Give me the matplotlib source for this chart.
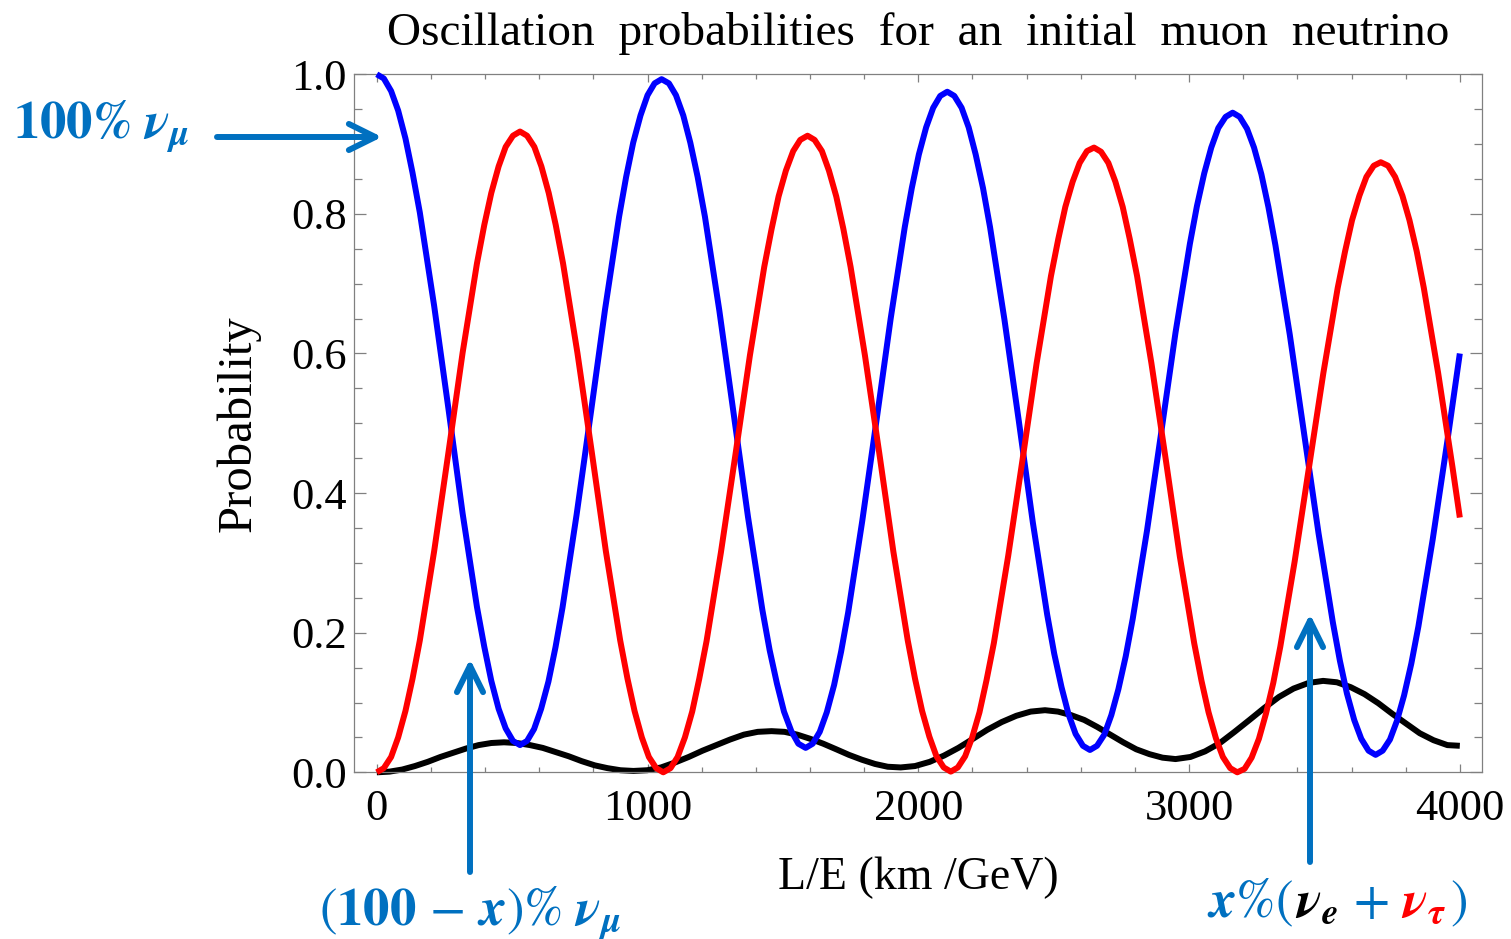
import matplotlib
matplotlib.use("Agg")
import matplotlib.pyplot as plt
from matplotlib.ticker import MultipleLocator, FormatStrFormatter
from matplotlib.transforms import IdentityTransform

plt.rcParams['mathtext.fontset'] = 'stix'
plt.rcParams['font.family'] = 'Liberation Serif'

# nu_mu survival (blue)
L_mumu = [0, 26, 53, 79, 106, 132, 159, 212, 265, 317, 370, 397, 423, 450, 476, 503,
          529, 555, 581, 607, 634, 660, 686, 738, 791, 843, 895, 921, 947, 974, 1000, 1026,
          1052, 1079, 1105, 1132, 1158, 1185, 1212, 1265, 1318, 1371, 1424, 1451, 1478, 1504, 1531, 1557,
          1584, 1610, 1636, 1662, 1689, 1715, 1741, 1793, 1846, 1898, 1950, 1976, 2002, 2029, 2055, 2081,
          2107, 2133, 2160, 2186, 2212, 2239, 2265, 2318, 2371, 2423, 2476, 2502, 2529, 2555, 2581, 2608,
          2634, 2660, 2687, 2713, 2739, 2766, 2792, 2845, 2898, 2950, 3003, 3029, 3056, 3082, 3108, 3135,
          3161, 3187, 3214, 3240, 3267, 3293, 3319, 3372, 3425, 3478, 3531, 3557, 3583, 3610, 3636, 3663,
          3689, 3715, 3742, 3768, 3794, 3821, 3847, 3900, 3953, 4000]
P_mumu = [1.000, 0.994, 0.976, 0.948, 0.908, 0.859, 0.802, 0.668, 0.520, 0.371, 0.237, 0.180, 0.131, 0.091, 0.063, 0.045,
          0.039, 0.045, 0.062, 0.091, 0.130, 0.179, 0.236, 0.369, 0.516, 0.663, 0.796, 0.853, 0.902, 0.941, 0.970, 0.987,
          0.993, 0.987, 0.970, 0.941, 0.902, 0.853, 0.796, 0.662, 0.514, 0.366, 0.233, 0.175, 0.127, 0.087, 0.059, 0.041,
          0.035, 0.041, 0.058, 0.086, 0.125, 0.173, 0.229, 0.360, 0.505, 0.650, 0.781, 0.837, 0.885, 0.924, 0.952, 0.969,
          0.975, 0.969, 0.952, 0.924, 0.885, 0.837, 0.781, 0.649, 0.504, 0.358, 0.226, 0.170, 0.122, 0.083, 0.055, 0.038,
          0.032, 0.038, 0.054, 0.082, 0.119, 0.166, 0.220, 0.347, 0.489, 0.630, 0.757, 0.811, 0.858, 0.895, 0.923, 0.939,
          0.945, 0.939, 0.922, 0.895, 0.857, 0.810, 0.755, 0.627, 0.485, 0.343, 0.215, 0.160, 0.113, 0.075, 0.048, 0.031,
          0.025, 0.031, 0.047, 0.074, 0.110, 0.156, 0.209, 0.334, 0.472, 0.600]

# nu_mu -> nu_tau (red)
L_mutau = [0, 26, 53, 79, 106, 132, 159, 212, 265, 317, 370, 397, 423, 450, 476, 503,
           529, 555, 582, 608, 635, 661, 688, 741, 794, 846, 899, 926, 952, 979, 1005, 1032,
           1058, 1085, 1111, 1138, 1165, 1191, 1218, 1271, 1325, 1378, 1431, 1458, 1484, 1511, 1538, 1564,
           1591, 1617, 1644, 1670, 1697, 1723, 1750, 1803, 1856, 1908, 1961, 1988, 2014, 2041, 2067, 2094,
           2120, 2146, 2173, 2199, 2226, 2252, 2279, 2332, 2385, 2437, 2490, 2517, 2543, 2570, 2596, 2623,
           2649, 2675, 2702, 2728, 2755, 2781, 2808, 2861, 2914, 2966, 3019, 3046, 3072, 3099, 3125, 3152,
           3178, 3205, 3231, 3258, 3284, 3311, 3337, 3390, 3443, 3496, 3549, 3576, 3602, 3629, 3655, 3682,
           3708, 3735, 3761, 3788, 3814, 3841, 3867, 3920, 3973, 4000]
P_mutau = [0.000, 0.006, 0.022, 0.050, 0.088, 0.134, 0.189, 0.317, 0.459, 0.601, 0.729, 0.784, 0.830, 0.868, 0.896, 0.912,
           0.918, 0.912, 0.896, 0.868, 0.830, 0.784, 0.729, 0.601, 0.459, 0.317, 0.189, 0.134, 0.088, 0.050, 0.022, 0.006,
           0.000, 0.006, 0.022, 0.050, 0.087, 0.134, 0.188, 0.315, 0.456, 0.597, 0.724, 0.778, 0.825, 0.862, 0.890, 0.906,
           0.912, 0.906, 0.890, 0.862, 0.825, 0.779, 0.724, 0.597, 0.457, 0.316, 0.189, 0.134, 0.088, 0.051, 0.023, 0.007,
           0.001, 0.007, 0.023, 0.050, 0.086, 0.132, 0.185, 0.310, 0.448, 0.586, 0.711, 0.764, 0.810, 0.846, 0.873, 0.890,
           0.895, 0.889, 0.873, 0.846, 0.810, 0.764, 0.711, 0.586, 0.448, 0.309, 0.185, 0.131, 0.086, 0.049, 0.022, 0.006,
           0.000, 0.005, 0.021, 0.048, 0.084, 0.128, 0.180, 0.302, 0.437, 0.572, 0.694, 0.746, 0.791, 0.826, 0.853, 0.869,
           0.874, 0.869, 0.853, 0.826, 0.791, 0.746, 0.694, 0.572, 0.437, 0.365]

# nu_mu -> nu_e (black)
L_mue = [0, 47, 94, 141, 188, 235, 282, 329, 376, 423,
         470, 518, 566, 613, 661, 709, 757, 805, 852, 900,
         948, 999, 1050, 1101, 1152, 1203, 1254, 1305, 1356, 1407,
         1458, 1506, 1553, 1601, 1649, 1697, 1744, 1792, 1840, 1887,
         1935, 1988, 2042, 2095, 2148, 2202, 2255, 2308, 2362, 2415,
         2468, 2516, 2564, 2613, 2661, 2709, 2757, 2805, 2854, 2902,
         2950, 3005, 3059, 3114, 3168, 3223, 3277, 3332, 3386, 3441,
         3495, 3546, 3597, 3648, 3699, 3750, 3801, 3852, 3903, 3954, 4000]
P_mue = [0.000, 0.001, 0.004, 0.009, 0.015, 0.022, 0.028, 0.034, 0.039, 0.042,
         0.043, 0.042, 0.039, 0.035, 0.029, 0.023, 0.016, 0.010, 0.006, 0.003,
         0.002, 0.003, 0.007, 0.014, 0.022, 0.031, 0.039, 0.047, 0.054, 0.058,
         0.059, 0.058, 0.054, 0.048, 0.041, 0.033, 0.025, 0.018, 0.012, 0.008,
         0.007, 0.009, 0.015, 0.024, 0.035, 0.048, 0.061, 0.072, 0.081, 0.087,
         0.089, 0.087, 0.082, 0.075, 0.065, 0.054, 0.043, 0.033, 0.026, 0.021,
         0.019, 0.022, 0.030, 0.042, 0.058, 0.075, 0.092, 0.108, 0.120, 0.128,
         0.131, 0.129, 0.122, 0.112, 0.099, 0.084, 0.070, 0.056, 0.046, 0.039, 0.038]

x_ticks = [0, 1000, 2000, 3000, 4000]
y_ticks = [0.0, 0.2, 0.4, 0.6, 0.8, 1.0]

W, H = 1511, 939
note_blue = '#0070C0'
grey = '#808080'

fig = plt.figure(figsize=(W / 100, H / 100), dpi=100)
ax = fig.add_axes([0.2343, 0.1775, 0.7467, 0.7434])

ax.plot(L_mue, P_mue, color='black', lw=4.3, solid_capstyle='butt', clip_on=False, zorder=2)
ax.plot(L_mumu, P_mumu, color='#0000FF', lw=4.3, solid_capstyle='butt', clip_on=False, zorder=3)
ax.plot(L_mutau, P_mutau, color='#FF0000', lw=4.3, solid_capstyle='butt', clip_on=False, zorder=4)

ax.set_xlim(-84, 4083)
ax.set_ylim(0, 1.0)
ax.set_xticks(x_ticks)
ax.set_yticks(y_ticks)
ax.yaxis.set_major_formatter(FormatStrFormatter('%.1f'))
ax.xaxis.set_minor_locator(MultipleLocator(200))
ax.yaxis.set_minor_locator(MultipleLocator(0.05))
ax.tick_params(which='both', direction='in', top=True, right=True, color=grey, width=0.9, labelsize=32)
ax.tick_params(axis='y', which='major', length=8.6, pad=5)
ax.tick_params(axis='y', which='minor', length=5.5)
ax.tick_params(axis='x', which='major', length=5.5, pad=12)
ax.tick_params(axis='x', which='minor', length=3.6)
for s in ax.spines.values():
    s.set_color(grey)
    s.set_linewidth(0.9)

ax.set_title('Oscillation  probabilities  for  an  initial  muon  neutrino', fontsize=34, pad=21)
ax.set_xlabel('L/E (km /GeV)', fontsize=33)
ax.set_ylabel('Probability', fontsize=35)
ax.xaxis.set_label_coords(0.5, -0.12)
ax.yaxis.set_label_coords(-0.083, 0.5)


def fpos(x, y):
    return (x / W, 1 - y / H)


arrow_kw = dict(arrowstyle='->,head_length=0.95,head_width=0.47', lw=4.3, color=note_blue,
                shrinkA=0, shrinkB=0, mutation_scale=20)
fig.add_artist(plt.Annotation('', xy=fpos(382, 137), xytext=fpos(217, 137),
                              xycoords='figure fraction', arrowprops=arrow_kw))
fig.add_artist(plt.Annotation('', xy=fpos(470, 659), xytext=fpos(470, 872),
                              xycoords='figure fraction', arrowprops=arrow_kw))
fig.add_artist(plt.Annotation('', xy=fpos(1310, 614), xytext=fpos(1310, 862),
                              xycoords='figure fraction', arrowprops=arrow_kw))

fig.text(13 / W, 1 - 138 / H, r'$\mathbf{100\%}\ \boldsymbol{\nu}_{\boldsymbol{\mu}}$',
         color=note_blue, fontsize=38, ha='left', va='baseline')
fig.text(470 / W, 1 - 925 / H, r'$(\mathbf{100}\,-\,\boldsymbol{x})\%\ \boldsymbol{\nu}_{\boldsymbol{\mu}}$',
         color=note_blue, fontsize=38, ha='center', va='baseline')

# multi-coloured label, pieces laid out left to right on one baseline
pieces = [(r'$\boldsymbol{x}\%($', note_blue, 0),
          (r'$\boldsymbol{\nu}_{\boldsymbol{e}}$', 'black', 2),
          (r'$+$', note_blue, 14),
          (r'$\boldsymbol{\nu}_{\boldsymbol{\tau}}$', '#FF0000', 13),
          (r'$)$', note_blue, 3)]
parts = [fig.text(0, 0, s, color=c, fontsize=38, ha='left', va='baseline',
                  transform=IdentityTransform()) for s, c, g in pieces]
fig.canvas.draw()
rend = fig.canvas.get_renderer()
widths = [t.get_window_extent(rend).width for t in parts]
gaps = [g for s, c, g in pieces]
xpos = 1337 - (sum(widths) + sum(gaps)) / 2
for t, w, g in zip(parts, widths, gaps):
    xpos += g
    t.set_position((xpos, H - 917))
    xpos += w

fig.savefig('out.png', dpi=100)
